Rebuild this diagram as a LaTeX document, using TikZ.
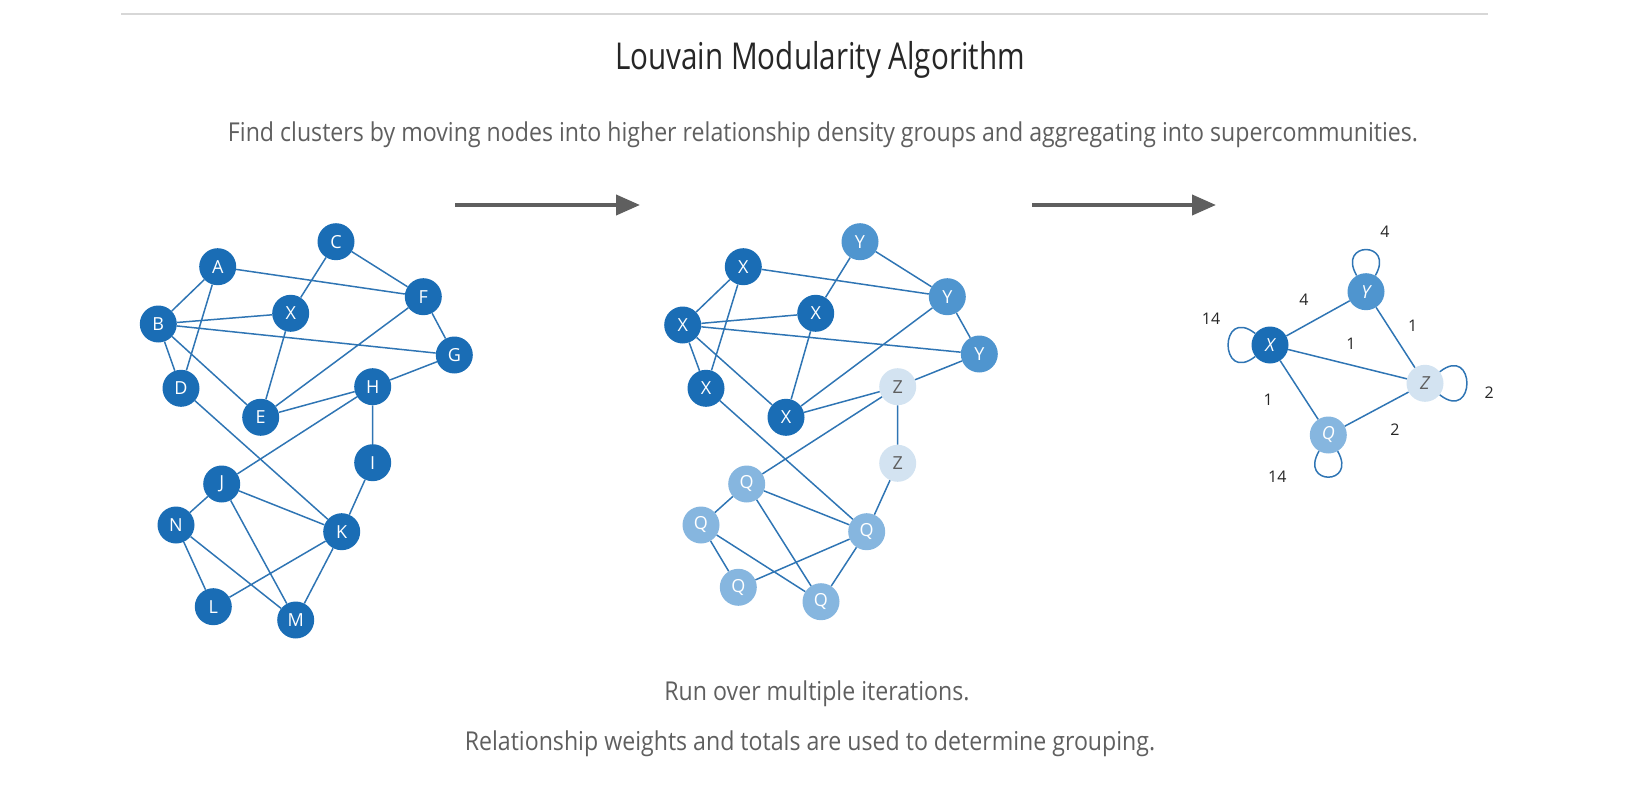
\documentclass[tikz,border=0pt]{standalone}
\usepackage{fontspec}
\setmainfont{Open Sans}
\newfontfamily\condfont{Open Sans}[FakeStretch=0.8]
\newfontfamily\capfont{Open Sans}[FakeStretch=0.89]
\usetikzlibrary{arrows.meta}
\definecolor{dkblue}{RGB}{26,109,181}
\definecolor{mdblue}{RGB}{79,149,207}
\definecolor{ltblue}{RGB}{134,182,223}
\definecolor{paleblue}{RGB}{211,227,241}
\definecolor{edgeblue}{RGB}{47,117,180}
\definecolor{txtgray}{RGB}{95,95,95}
\definecolor{arrgray}{RGB}{95,95,95}
\definecolor{rulegray}{RGB}{215,215,215}
\tikzset{
  vtx/.style={circle,minimum size=37pt,inner sep=0pt,text=white,font=\fontsize{18}{18}\selectfont},
  xvtx/.style={vtx,fill=dkblue},
  yvtx/.style={vtx,fill=mdblue},
  qvtx/.style={vtx,fill=ltblue},
  zvtx/.style={vtx,fill=paleblue,text=txtgray},
  ivtx/.style={font=\fontsize{18}{18}\selectfont\itshape},
  edge/.style={edgeblue,line width=1.5pt},
  selfloop/.style={edge,min distance=46pt},
  wlab/.style={font=\fontsize{16}{16}\selectfont,text=black!85},
  stage/.style={arrgray,line width=4pt,-{Triangle[length=24pt,width=20pt]}},
  caption/.style={font=\capfont\fontsize{26}{26}\selectfont,text=txtgray,anchor=base}
}

\begin{document}
\begin{tikzpicture}[x=1pt,y=-1pt]
  \useasboundingbox (0,0) rectangle (1626,789);
  \draw[rulegray,line width=2pt] (121,14) -- (1488,14);
  \node[anchor=base,font=\condfont\fontsize{37}{37}\selectfont,text=black!85] (title) at (820,70) {Louvain Modularity Algorithm};
  \node[caption] (sub) at (823,142) {Find clusters by moving nodes into higher relationship density groups and aggregating into supercommunities.};

  % original graph
  \node[xvtx] (a) at (217.7,266.7) {A}; \node[xvtx] (b) at (158.3,324) {B}; \node[xvtx] (c) at (336,241.7) {C};
  \node[xvtx] (d) at (181,388.3) {D}; \node[xvtx] (e) at (260.7,417.3) {E}; \node[xvtx] (f) at (423.3,296.7) {F};
  \node[xvtx] (g) at (454.3,355) {G}; \node[xvtx] (h) at (372.7,386.7) {H}; \node[xvtx] (i) at (372.7,462.7) {I};
  \node[xvtx] (j) at (221.7,484) {J}; \node[xvtx] (k) at (341.7,531.7) {K}; \node[xvtx] (l) at (213.3,606.7) {L};
  \node[xvtx] (m) at (295.7,620) {M}; \node[xvtx] (n) at (176,525) {N}; \node[xvtx] (x) at (290.7,313.3) {X};
  \draw[edge] (a) -- (b) (a) -- (d) (a) -- (f) (c) -- (x) (c) -- (f) (b) -- (x) (b) -- (g) (b) -- (d) (b) -- (e)
    (d) -- (k) (f) -- (g) (f) -- (e) (x) -- (e) (g) -- (h) (h) -- (e) (h) -- (j) (h) -- (i) (i) -- (k)
    (j) -- (n) (j) -- (k) (j) -- (m) (n) -- (l) (n) -- (m) (l) -- (k) (k) -- (m);

  % first pass
  \node[xvtx] (ma) at (743.3,266.7) {X}; \node[xvtx] (mb) at (682.7,325) {X}; \node[yvtx] (mc) at (860,241.7) {Y};
  \node[xvtx] (md) at (706,388.3) {X}; \node[xvtx] (me) at (786,417.3) {X}; \node[yvtx] (mf) at (947.3,296.7) {Y};
  \node[yvtx] (mg) at (979.3,354) {Y}; \node[zvtx] (mh) at (897.7,386.7) {Z}; \node[zvtx] (mi) at (897.7,463.3) {Z};
  \node[qvtx] (mj) at (746.7,484) {Q}; \node[qvtx] (mk) at (866.7,531.7) {Q}; \node[qvtx] (ml) at (738.3,587.3) {Q};
  \node[qvtx] (mm) at (821,601.7) {Q}; \node[qvtx] (mn) at (701,525) {Q}; \node[xvtx] (mx) at (815.7,313.3) {X};
  \draw[edge] (ma) -- (mb) (ma) -- (md) (ma) -- (mf) (mc) -- (mx) (mc) -- (mf) (mb) -- (mx) (mb) -- (mg) (mb) -- (md) (mb) -- (me)
    (md) -- (mk) (mf) -- (mg) (mf) -- (me) (mx) -- (me) (mg) -- (mh) (mh) -- (me) (mh) -- (mj) (mh) -- (mi) (mi) -- (mk)
    (mj) -- (mn) (mj) -- (mk) (mj) -- (mm) (mn) -- (ml) (mn) -- (mm) (ml) -- (mk) (mk) -- (mm);

  % aggregated communities
  \node[xvtx,ivtx] (rx) at (1270,345) {X}; \node[yvtx,ivtx] (ry) at (1366,291.7) {Y};
  \node[zvtx,ivtx] (rz) at (1425,383.3) {Z}; \node[qvtx,ivtx] (rq) at (1328.3,435) {Q};
  \draw[edge] (rx) -- (ry) (rx) -- (rz) (rx) -- (rq) (ry) -- (rz) (rq) -- (rz);
  \draw[selfloop] (rx) to[out=142,in=218] (rx); \draw[selfloop] (rz) to[out=38,in=-38] (rz);
  \draw[selfloop,min distance=40pt] (ry) to[out=120,in=60] (ry); \draw[selfloop,min distance=40pt] (rq) to[out=-60,in=-120] (rq);
  \node[wlab] (w1) at (1385,231.7) {4}; \node[wlab] (w2) at (1304,300) {4}; \node[wlab] (w3) at (1211,318.3) {14};
  \node[wlab] (w4) at (1351,343.3) {1}; \node[wlab] (w5) at (1412.7,326) {1}; \node[wlab] (w6) at (1489.3,392.7) {2};
  \node[wlab] (w7) at (1268.3,400) {1}; \node[wlab] (w8) at (1395,430) {2}; \node[wlab] (w9) at (1277.3,476.7) {14};

  \coordinate (s1) at (455,205); \coordinate (t1) at (640,205);
  \coordinate (s2) at (1032,205); \coordinate (t2) at (1216,205);
  \draw[stage] (s1) -- (t1); \draw[stage] (s2) -- (t2);

  \node[caption] (foot1) at (817,700) {Run over multiple iterations.};
  \node[caption] (foot2) at (810,750) {Relationship weights and totals are used to determine grouping.};
\end{tikzpicture}
\end{document}
